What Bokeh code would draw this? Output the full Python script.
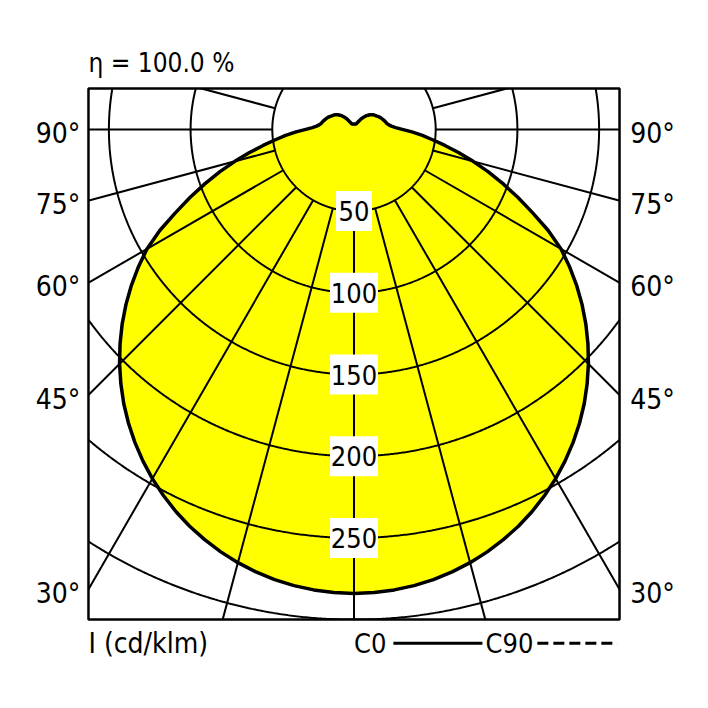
import math
from bokeh.plotting import figure
from bokeh.models import Range1d
from bokeh.core.properties import value
from bokeh.embed import file_html
from bokeh.resources import INLINE

# ---------------- data ----------------
gamma = [i * 2.5 for i in range(73)]  # 0 .. 180 deg, 2.5 deg steps
c0 = [284, 283.7, 282.9, 281.6, 279.8, 277.4, 274.5, 271.1, 267.2, 262.9,
      258, 252.6, 246.8, 240.5, 233.8, 226.7, 219.2, 211.2, 202.9, 194.2,
      185.2, 175.9, 166.3, 156.4, 146.3, 134, 120.5, 108.5, 97, 86,
      75.5, 65.5, 56.5, 48.5, 42, 35.5, 29.5, 25.5, 23, 21.5,
      20.5, 20, 19.5, 19, 18.5, 18, 17.5, 16.9, 16.2, 15.7,
      15.2, 14.7, 14, 13.2, 12.3, 11.4, 10.3, 9.2, 8, 6.9,
      5.8, 4.9, 4.2, 3.8, 3.6, 3.5, 3.4, 3.3, 3.3, 3.3,
      3.3, 3.3, 3.3]
c90 = [284, 283.7, 282.9, 281.6, 279.8, 277.4, 274.5, 271.1, 267.2, 262.9,
       258, 252.6, 246.8, 240.5, 233.8, 226.7, 219.2, 211.2, 202.9, 194.2,
       185.2, 175.9, 166.3, 156.4, 146.3, 134, 120.5, 108.5, 97, 86,
       75.5, 65.5, 56.5, 48.5, 42, 35.5, 29.5, 25.5, 23, 21.5,
       20.5, 20, 19.5, 19, 18.5, 18, 17.5, 16.9, 16.2, 15.7,
       15.2, 14.7, 14, 13.2, 12.3, 11.4, 10.3, 9.2, 8, 6.9,
       5.8, 4.9, 4.2, 3.8, 3.6, 3.5, 3.4, 3.3, 3.3, 3.3,
       3.3, 3.3, 3.3]
ring_values = [50, 100, 150, 200, 250, 300]
ring_labels = ["50", "100", "150", "200", "250"]
angle_ticks = [90, 75, 60, 45, 30]
angle_labels = ["90°", "75°", "60°", "45°", "30°"]
title_text = "η = 100.0 %"
unit_text = "I (cd/klm)"
legend_names = ["C0", "C90"]
radial_step = 15
box_half_width = 162.5
box_top = 25
box_bottom = -300

# ---------------- geometry ----------------
W, H = 704, 704
K = 1.634              # px per cd/klm
CX, CY = 353.5, 128.9  # polar centre in canvas px (from top-left)
x0, x1 = -CX / K, (W - CX) / K
y1, y0 = CY / K, -(H - CY) / K
FONT = value("'DejaVu Sans Condensed', 'Roboto Condensed', 'Liberation Sans', sans-serif")
M = 2.0  # small overshoot beyond the box, hidden by the white masks

p = figure(width=W, height=H, x_range=Range1d(x0, x1), y_range=Range1d(y0, y1),
           output_backend="svg", toolbar_location=None,
           x_axis_location=None, y_axis_location=None, min_border=0)
p.outline_line_color = None
p.background_fill_color = "white"
p.border_fill_color = "white"
for g in p.grid:
    g.visible = False


def polar_xy(vals, sign):
    xs = [sign * v * math.sin(math.radians(a)) for a, v in zip(gamma, vals)]
    ys = [-v * math.cos(math.radians(a)) for a, v in zip(gamma, vals)]
    return xs, ys


def inside(x, y):
    return abs(x) <= box_half_width + M and box_bottom - M <= y <= box_top + M


# closed curve: right half, left half mirrored
xr, yr = polar_xy(c0, 1)
xl, yl = polar_xy(c0, -1)
cx = xr + xl[::-1][1:]
cy = yr + yl[::-1][1:]
xr9, yr9 = polar_xy(c90, 1)
xl9, yl9 = polar_xy(c90, -1)
cx9 = xr9 + xl9[::-1][1:]
cy9 = yr9 + yl9[::-1][1:]

# fill
p.patch(cx, cy, fill_color="#FFFF00", line_color=None)

# grid circles, kept to the box
cxs, cys = [], []
for r in ring_values:
    runx, runy = [], []
    for i in range(0, 1441):
        t = math.radians(i * 0.25 - 90)
        x, y = r * math.cos(t), r * math.sin(t)
        if inside(x, y):
            runx.append(x)
            runy.append(y)
        elif runx:
            cxs.append(runx)
            cys.append(runy)
            runx, runy = [], []
    if runx:
        cxs.append(runx)
        cys.append(runy)
p.multi_line(cxs, cys, line_color="black", line_width=2)

# radial lines from the first ring to the box edge
sx0, sy0, sx1, sy1 = [], [], [], []
r_in = ring_values[0]
for a in range(-180, 181, radial_step):
    dx, dy = math.sin(math.radians(a)), -math.cos(math.radians(a))
    ts = []
    if abs(dx) > 1e-9:
        ts.append((box_half_width + M) / abs(dx))
    if dy > 1e-9:
        ts.append((box_top + M) / dy)
    elif dy < -1e-9:
        ts.append((-box_bottom + M) / -dy)
    r_out = min(ts)
    if r_out > r_in:
        sx0.append(r_in * dx)
        sy0.append(r_in * dy)
        sx1.append(r_out * dx)
        sy1.append(r_out * dy)
p.segment(x0=sx0, y0=sy0, x1=sx1, y1=sy1, line_color="black", line_width=2)

# ring labels with white boxes
lab_y = [-v for v in ring_values[:len(ring_labels)]]
lab_w = [(12 * len(s) + 12) / K for s in ring_labels]
p.rect(x=[0] * len(ring_labels), y=lab_y, width=lab_w, height=40 / K,
       fill_color="white", line_color=None)
p.text(x=[0] * len(ring_labels), y=lab_y, text=ring_labels, text_font=FONT,
       text_font_size="27px", text_align="center", text_baseline="middle",
       text_color="black")

# curve outlines
p.line(cx, cy, line_color="black", line_width=3.5, line_join="round")
p.line(cx9, cy9, line_color="black", line_width=2, line_dash="6 3", line_join="round")

# white masks outside the box
p.quad(left=[x0, box_half_width, x0, x0],
       right=[-box_half_width, x1, x1, x1],
       bottom=[y0, y0, box_top, y0],
       top=[y1, y1, y1, box_bottom],
       fill_color="white", line_color=None)

# box
p.quad(left=[-box_half_width], right=[box_half_width], bottom=[box_bottom], top=[box_top],
       fill_color=None, line_color="black", line_width=2.5)

# angle labels both sides
tick_y = [-box_half_width / math.tan(math.radians(a)) - 2.5 for a in angle_ticks]
p.text(x=[-box_half_width - 5] * len(angle_ticks), y=tick_y, text=angle_labels,
       text_font=FONT, text_font_size="28px", text_align="right",
       text_baseline="middle", text_color="black")
p.text(x=[box_half_width + 6.5] * len(angle_ticks), y=tick_y, text=angle_labels,
       text_font=FONT, text_font_size="28px", text_align="left",
       text_baseline="middle", text_color="black")

# title
title_y = (CY - 62.2) / K
p.text(x=[-box_half_width], y=[title_y], text=[title_text], text_font=FONT,
       text_font_size="26px", text_align="left", text_baseline="middle",
       text_color="black")

# bottom texts and legend
leg_y = -(642.8 - CY) / K
p.text(x=[-box_half_width], y=[leg_y], text=[unit_text], text_font=FONT,
       text_font_size="28px", text_align="left", text_baseline="middle",
       text_color="black")
p.text(x=[0, 80.5], y=[leg_y] * 2, text=legend_names, text_font=FONT,
       text_font_size="27px", text_align="left", text_baseline="middle",
       text_color="black")
p.line([24.1, 78.6], [leg_y, leg_y], line_color="black", line_width=3)
p.line([112.2, 161.2], [leg_y, leg_y], line_color="black", line_width=3, line_dash="11 5")

open("out.html", "w").write(file_html(p, INLINE))
